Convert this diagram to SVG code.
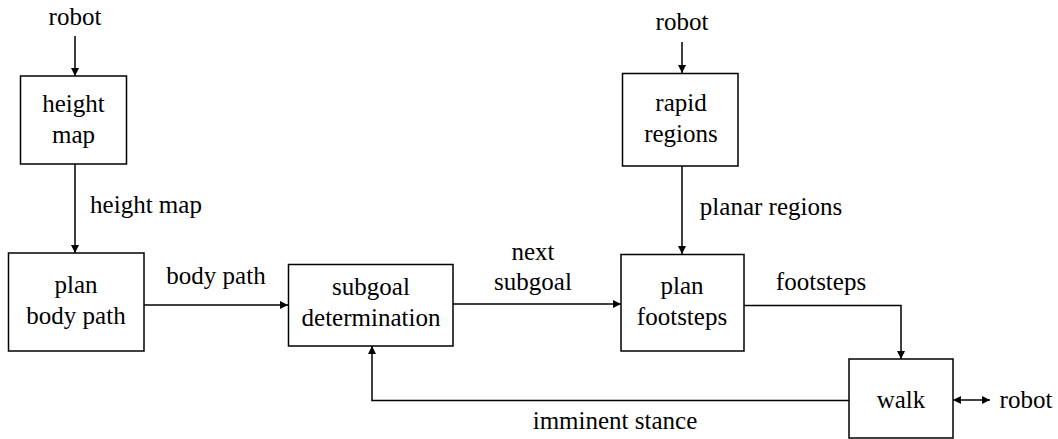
<svg xmlns="http://www.w3.org/2000/svg" width="1058" height="439" viewBox="0 0 1058 439">
<style>
.box{fill:#fff;stroke:#000;stroke-width:1.5}
text{font-family:'Liberation Serif','Times New Roman',Times,serif;font-size:25px;fill:#000;text-anchor:middle}
.c{fill:none;stroke:#000;stroke-width:1.5}
</style>
<defs>
<marker id="ah" viewBox="0 0 10 10" refX="10" refY="5" markerWidth="8" markerHeight="8" markerUnits="userSpaceOnUse" orient="auto-start-reverse">
<path d="M0,0 L10,5 L0,10 z" fill="#000"/>
</marker>
</defs>
<g id="connectors">
<line class="c" x1="75" y1="36" x2="75" y2="76" marker-end="url(#ah)"/>
<line class="c" x1="75" y1="164" x2="75" y2="253" marker-end="url(#ah)"/>
<line class="c" x1="144" y1="305" x2="288" y2="305" marker-end="url(#ah)"/>
<line class="c" x1="453" y1="304" x2="621" y2="304" marker-end="url(#ah)"/>
<line class="c" x1="682" y1="42" x2="682" y2="73" marker-end="url(#ah)"/>
<line class="c" x1="682" y1="166" x2="682" y2="254" marker-end="url(#ah)"/>
<polyline class="c" points="744,305.5 901,305.5 901,359" marker-end="url(#ah)"/>
<polyline class="c" points="849,400.5 372,400.5 372,346" marker-end="url(#ah)"/>
<line class="c" x1="953" y1="400" x2="990" y2="400" marker-start="url(#ah)" marker-end="url(#ah)"/>
<text x="146" y="213">height map</text>
<text x="216" y="284">body path</text>
<text x="533" y="260">next</text>
<text x="533" y="290">subgoal</text>
<text x="771" y="215">planar regions</text>
<text x="821" y="290">footsteps</text>
<text x="615" y="429">imminent stance</text>
<text x="75" y="25">robot</text>
<text x="682" y="30">robot</text>
<text x="1026" y="408">robot</text>
</g>
<g id="height-map">
<rect class="box" x="20.5" y="76" width="106" height="88"/>
<text x="73.5" y="112">height</text>
<text x="73.5" y="143">map</text>
</g>
<g id="plan-body-path">
<rect class="box" x="8.5" y="253" width="135.5" height="98"/>
<text x="76" y="293">plan</text>
<text x="76" y="324">body path</text>
</g>
<g id="subgoal-determination">
<rect class="box" x="288.5" y="264.5" width="164.5" height="81.5"/>
<text x="371" y="295">subgoal</text>
<text x="371" y="326">determination</text>
</g>
<g id="rapid-regions">
<rect class="box" x="622.5" y="73.5" width="115.5" height="92.5"/>
<text x="681" y="111">rapid</text>
<text x="681" y="142">regions</text>
</g>
<g id="plan-footsteps">
<rect class="box" x="621" y="254.5" width="123" height="96.5"/>
<text x="682" y="294">plan</text>
<text x="682" y="325">footsteps</text>
</g>
<g id="walk">
<rect class="box" x="849" y="359" width="104" height="79"/>
<text x="901" y="408">walk</text>
</g>
</svg>
